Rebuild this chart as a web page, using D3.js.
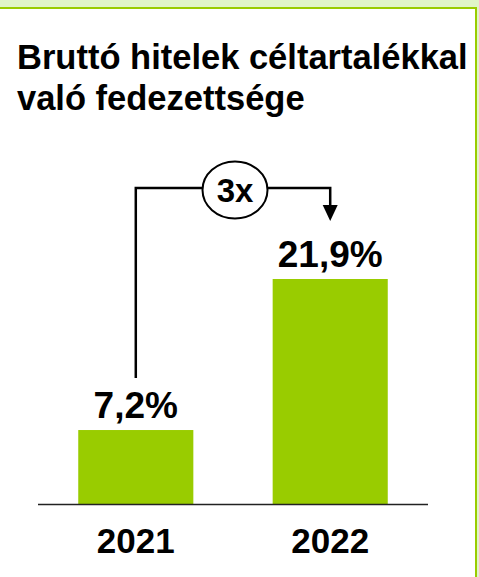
<!DOCTYPE html>
<html><head><meta charset="utf-8">
<script src="https://cdn.jsdelivr.net/npm/d3@7"></script>
<style>body{margin:0;background:#fff}svg{display:block}</style>
</head><body>
<script>
const categories = ["2021", "2022"];
const values = [7.2, 21.9];
const valueLabels = ["7,2%", "21,9%"];
const titleLines = ["Bruttó hitelek céltartalékkal", "való fedezettsége"];
const multiplierLabel = "3x";

const W = 479, H = 577;
const svg = d3.select("body").append("svg").attr("width", W).attr("height", H);
const font = "'Liberation Sans', Arial, sans-serif";
const green = "#99cc00";

// frame
svg.append("rect").attr("x", 0).attr("y", 0).attr("width", W).attr("height", 8).attr("fill", "#e0f5c8");
svg.append("rect").attr("x", 477).attr("y", 0).attr("width", 2).attr("height", H).attr("fill", "#e0f5c8");
svg.append("line").attr("x1", 0).attr("x2", 477).attr("y1", 8).attr("y2", 8).attr("stroke", green).attr("stroke-width", 2);
svg.append("line").attr("x1", 476).attr("x2", 476).attr("y1", 7).attr("y2", H).attr("stroke", green).attr("stroke-width", 2);

// title
svg.selectAll("text.title").data(titleLines).enter().append("text")
  .attr("class", "title")
  .attr("x", 17).attr("y", (d, i) => 69 + i * 41)
  .attr("font-family", font).attr("font-weight", "bold").attr("font-size", 34.5)
  .attr("fill", "#000").text(d => d);

const x = d3.scaleBand().domain(categories).range([38, 428]).paddingInner(0.408).paddingOuter(0.207);
const y = d3.scaleLinear().domain([0, 21.9]).range([504, 279]);

svg.selectAll("rect.bar").data(values).enter().append("rect")
  .attr("class", "bar")
  .attr("x", (d, i) => x(categories[i]))
  .attr("width", x.bandwidth())
  .attr("y", d => y(d))
  .attr("height", d => y(0) - y(d))
  .attr("fill", green);

const xAxis = svg.append("g").attr("transform", `translate(0,${y(0)})`)
  .call(d3.axisBottom(x).tickSize(0).tickPadding(24));
xAxis.select(".domain").attr("stroke", "#222").attr("stroke-width", 1.5).attr("d", "M38,0.5H428");
xAxis.selectAll("text").attr("font-family", font).attr("font-weight", "bold").attr("font-size", 35).attr("fill", "#000")
  .attr("dy", "0.71em");

svg.selectAll("text.val").data(values).enter().append("text")
  .attr("class", "val")
  .attr("x", (d, i) => x(categories[i]) + x.bandwidth() / 2)
  .attr("y", d => y(d) - 12)
  .attr("text-anchor", "middle")
  .attr("font-family", font).attr("font-weight", "bold").attr("font-size", 37)
  .text((d, i) => valueLabels[i]);

// connector
const xl = x(categories[0]) + x.bandwidth() / 2;
const xr = x(categories[1]) + x.bandwidth() / 2;
const yc = 188;
const cx = 235, rx = 32.5, ry = 28.5;
const yLeftBottom = y(values[0]) - 52;
const arrowTip = y(values[1]) - 58;
svg.append("path")
  .attr("d", `M${xl},${yLeftBottom}V${yc}H${cx - rx}M${cx + rx},${yc}H${xr}V${arrowTip - 14}`)
  .attr("fill", "none").attr("stroke", "#000").attr("stroke-width", 2.5);
svg.append("path")
  .attr("d", `M${xr - 7.5},${arrowTip - 16}L${xr + 7.5},${arrowTip - 16}L${xr},${arrowTip}Z`)
  .attr("fill", "#000");
svg.append("ellipse").attr("cx", cx).attr("cy", yc + 2).attr("rx", rx).attr("ry", ry)
  .attr("fill", "#fff").attr("stroke", "#000").attr("stroke-width", 2);
svg.append("text").attr("x", cx).attr("y", yc + 14).attr("text-anchor", "middle")
  .attr("font-family", font).attr("font-weight", "bold").attr("font-size", 33).text(multiplierLabel);
</script>
</body></html>
